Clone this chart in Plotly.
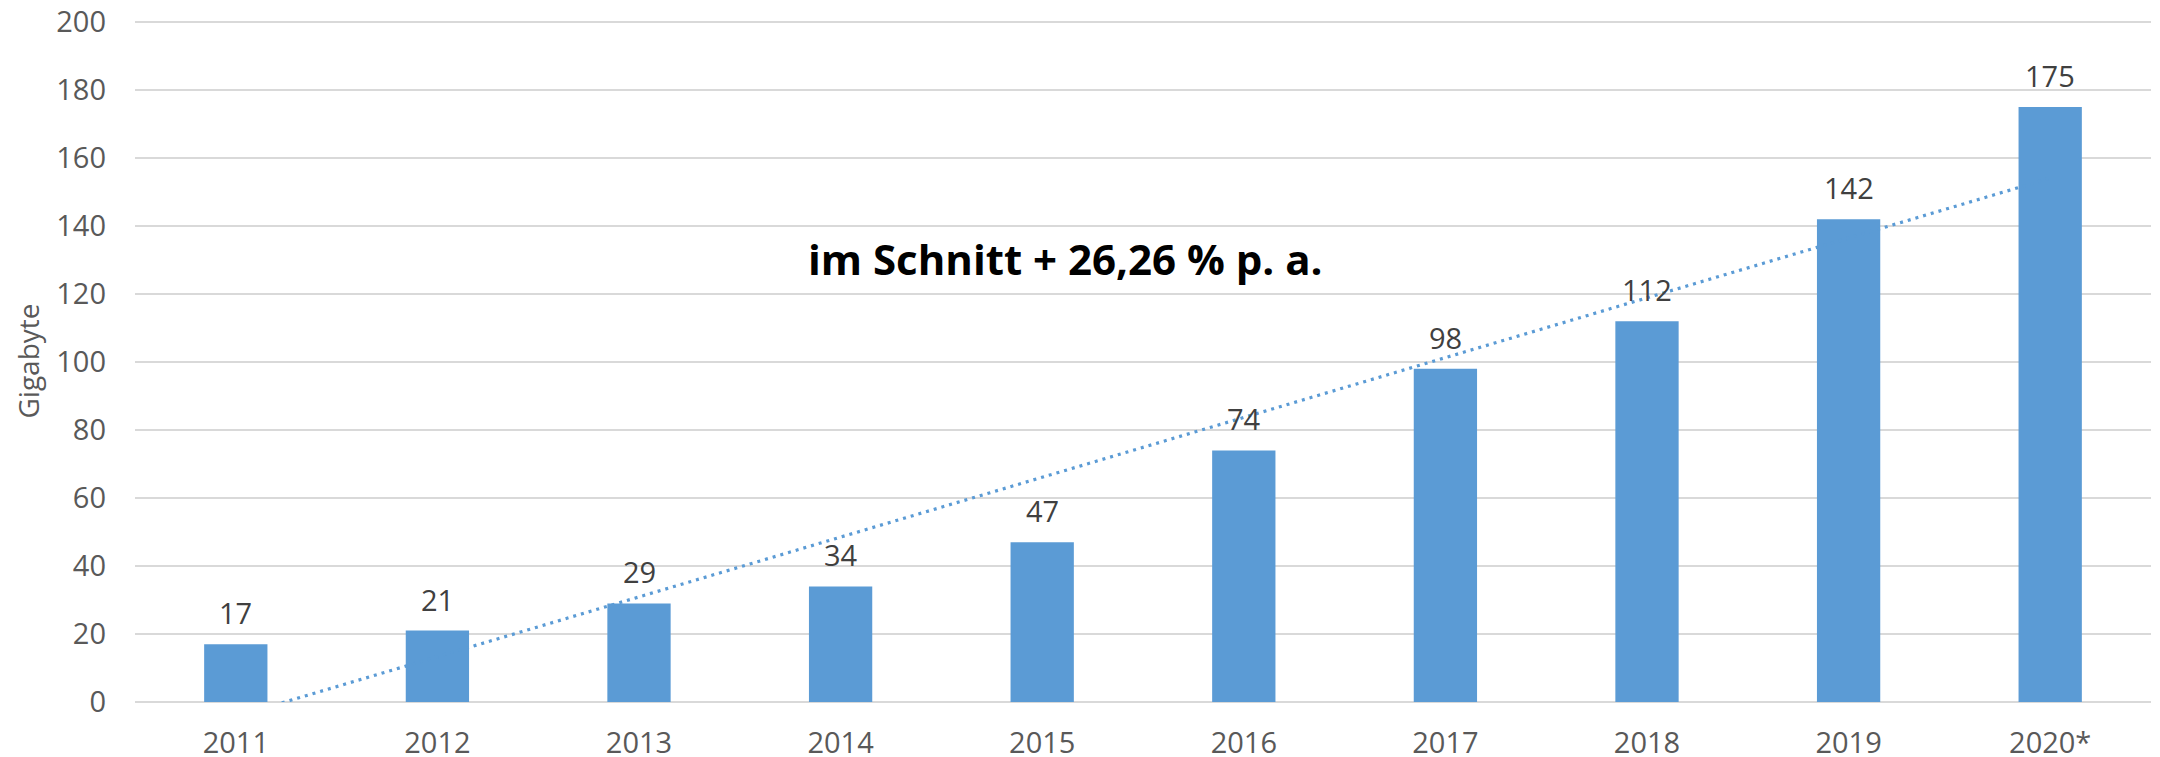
import numpy as np
import plotly.graph_objects as go

years = ["2011", "2012", "2013", "2014", "2015", "2016", "2017", "2018", "2019", "2020*"]
gigabytes = [17, 21, 29, 34, 47, 74, 98, 112, 142, 175]
y_ticks = [0, 20, 40, 60, 80, 100, 120, 140, 160, 180, 200]
annotation_text = "im Schnitt + 26,26 % p. a."
y_title = "Gigabyte"

BAR = "#5B9BD5"
FONT = "Open Sans"

# linear trend line (least squares over category index), as Excel trendline
idx = np.arange(1, len(gigabytes) + 1)
slope, intercept = np.polyfit(idx, gigabytes, 1)
trend = slope * idx + intercept

fig = go.Figure()
fig.add_trace(go.Scatter(
    x=years, y=trend, mode="lines",
    line=dict(color=BAR, width=3.2, dash="3px,5px"),
    hoverinfo="skip", showlegend=False,
))
fig.add_trace(go.Bar(
    x=years, y=gigabytes, marker=dict(color=BAR, line=dict(width=0)),
    width=0.314, showlegend=False,
))

for i, v in enumerate(gigabytes):
    fig.add_annotation(x=i, y=v, text=str(v), showarrow=False,
                       yanchor="bottom", yshift=10,
                       font=dict(family=FONT, size=29, color="#404040"))

fig.add_annotation(xref="paper", yref="paper", x=0.4615, y=0.65,
                   text=annotation_text, showarrow=False,
                   xanchor="center", yanchor="middle",
                   font=dict(family=FONT, size=42, color="#000000", weight="bold"))

# page body has an 8px default margin, so margins are offset accordingly
fig.update_layout(
    template="none",
    width=2160, height=757,
    margin=dict(l=127, r=17, t=12, b=63, autoexpand=False),
    paper_bgcolor="white", plot_bgcolor="white",
    font=dict(family=FONT, size=29, color="#595959"),
    bargap=0.686,
    showlegend=False,
)
fig.update_xaxes(
    type="category", categoryorder="array", categoryarray=years,
    range=[-0.5, len(years) - 0.5], automargin=False,
    showgrid=False, showline=False, zeroline=False,
    ticks="", ticklabelstandoff=21,
    tickfont=dict(family=FONT, size=29, color="#595959"),
)
fig.update_yaxes(
    range=[0, 200.6], tickvals=y_ticks, automargin=False,
    ticklabeloverflow="allow",
    showgrid=True, gridcolor="#D9D9D9",
    gridwidth=2, zeroline=True, zerolinecolor="#D9D9D9", zerolinewidth=2,
    showline=False, ticks="", ticklabelstandoff=28,
    tickfont=dict(family=FONT, size=29, color="#595959"),
    title=dict(text=y_title, standoff=8, font=dict(family=FONT, size=28, color="#595959")),
)

fig.write_html("out.html")
